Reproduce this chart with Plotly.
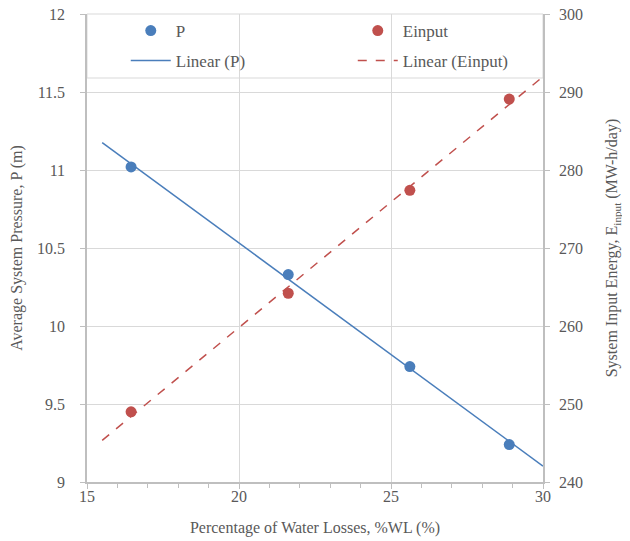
import numpy as np
import plotly.graph_objects as go

# Data
wl = [16.45, 21.62, 25.62, 28.89]          # % water losses
pressure = [11.02, 10.33, 9.74, 9.24]      # average system pressure (m)
einput = [249.0, 264.2, 277.4, 289.1]      # system input energy (MW-h/day)
trend_x = [15.5, 30.0]                     # extent of trendlines

blue = "#4a7ebb"
red = "#c0504d"
txt = "#595959"
grid = "#d9d9d9"
axc = "#bfbfbf"
font = "Liberation Serif, Times New Roman, serif"

kp = np.polyfit(wl, pressure, 1)
ke = np.polyfit(wl, einput, 1)
tx = np.array(trend_x)

fig = go.Figure()
fig.add_trace(go.Scatter(x=wl, y=pressure, mode="markers", name="P",
                         marker=dict(color=blue, size=11), legend="legend"))
fig.add_trace(go.Scatter(x=wl, y=einput, mode="markers", name="Einput", yaxis="y2",
                         marker=dict(color=red, size=11), legend="legend"))
fig.add_trace(go.Scatter(x=tx, y=np.polyval(kp, tx), mode="lines", name="Linear (P)",
                         line=dict(color=blue, width=1.5), legend="legend2"))
fig.add_trace(go.Scatter(x=tx, y=np.polyval(ke, tx), mode="lines", name="Linear (Einput)",
                         yaxis="y2", line=dict(color=red, width=1.5, dash="dash"),
                         legend="legend2"))

# page body has an 8px margin, so the figure is offset by 8px
W, H = 622, 533
L, T = 79, 6
PW, PH = 456, 468
R = W - L - PW
B = H - T - PH

def py(pix):
    return (T + PH - pix) / PH

fig.add_shape(type="rect", xref="paper", yref="paper", x0=0, x1=1,
              y0=py(70), y1=1, fillcolor="white",
              line=dict(color=grid, width=1), layer="between")

leg_common = dict(orientation="h", xanchor="left", yanchor="top",
                  bgcolor="rgba(0,0,0,0)", borderwidth=0,
                  font=dict(family=font, size=17, color=txt),
                  itemwidth=40,
                  entrywidth=172, entrywidthmode="pixels")

fig.update_layout(
    width=W, height=H,
    margin=dict(l=L, r=R, t=T, b=B, autoexpand=False),
    paper_bgcolor="white", plot_bgcolor="white",
    font=dict(family=font, size=16, color=txt),
    showlegend=True,
    legend=dict(x=0.085, y=py(5), **leg_common),
    legend2=dict(x=0.085, y=py(35), **leg_common),
    xaxis=dict(range=[15, 30], dtick=5, tick0=15, showgrid=True, gridcolor=grid,
               showline=True, linecolor=axc, linewidth=1.5, ticks="outside",
               ticklen=5, tickcolor=axc, zeroline=False, automargin=False,
               ticklabelstandoff=-6, ticklabeloverflow="allow",
               minor=dict(dtick=1, ticks="outside", ticklen=4, tickcolor=axc, showgrid=False),
               title=dict(text="Percentage of Water Losses, %WL (%)", standoff=18,
                          font=dict(family=font, size=16, color=txt)),
               tickfont=dict(family=font, size=16, color=txt)),
    yaxis=dict(range=[9, 12], dtick=0.5, showgrid=True, gridcolor=grid,
               showline=True, linecolor=axc, linewidth=1.5, ticks="outside",
               ticklen=5, tickcolor=axc, zeroline=False, automargin=False,
               ticklabelstandoff=12, ticklabeloverflow="allow",
               title=dict(text="Average System Pressure, P (m)", standoff=12,
                          font=dict(family=font, size=16, color=txt)),
               tickfont=dict(family=font, size=16, color=txt)),
    yaxis2=dict(range=[240, 300], dtick=10, overlaying="y", side="right",
                showgrid=False, showline=True, linecolor=axc, linewidth=1.5,
                ticks="outside", ticklen=5, tickcolor=axc, zeroline=False, automargin=False,
                ticklabelstandoff=6, ticklabeloverflow="allow",
                title=dict(text="System Input Energy, E<sub>input</sub> (MW-h/day)",
                           standoff=24, font=dict(family=font, size=16, color=txt)),
                tickfont=dict(family=font, size=16, color=txt)),
)

fig.write_html("out.html")
